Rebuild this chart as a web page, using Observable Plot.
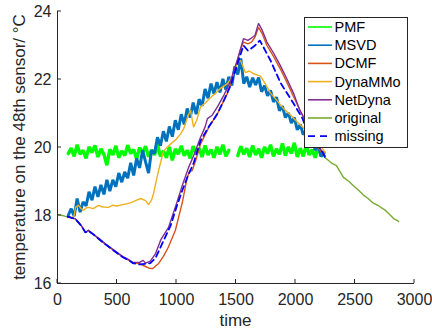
<!DOCTYPE html>
<html><head><meta charset="utf-8">
<script src="https://cdn.jsdelivr.net/npm/d3@7"></script>
<script src="https://cdn.jsdelivr.net/npm/@observablehq/plot@0.6"></script>
<style>body{margin:0;background:#fff} svg{display:block}</style>
</head><body><div id="chart"></div>
<script>
const seriesNames = ["PMF","MSVD","DCMF","DynaMMo","NetDyna","original","missing"];
const seriesColors = ["#00FF00","#0072BD","#D95319","#EDB120","#7E2F8E","#77AC30","#0000FF"];
const xTicks = [0,500,1000,1500,2000,2500,3000];
const yTicks = [16,18,20,22,24];
const xLabel = "time";
const yLabel = "temperature on the 48th sensor/ °C";

const noiseT = [90,115,140,165,190,215,240,265,290,315,340,365,390,415,440,465,490,515,540,565,590,615,640,665,690,715,740,765,790,815,840,865,890,915,940,965,990,1015,1040,1065,1090,1115,1140,1165,1190,1215,1240,1265,1290,1315,1340,1365,1390,1415,1440,1465,1490,1515,1540,1565,1590,1615,1640,1665,1690,1715,1740,1765,1790,1815,1840,1865,1890,1915,1940,1965,1990,2015,2040,2065,2090,2115,2140,2165,2190,2215,2240];
const pmfV = [19.82,19.98,19.74,20.08,19.80,19.92,19.68,20.02,19.85,20.06,19.72,19.96,19.80,19.48,19.95,19.78,20.05,19.70,19.90,19.76,20.07,19.82,19.94,19.66,20.00,19.84,20.04,19.73,19.93,19.78,20.09,19.74,19.90,19.70,20.02,19.62,19.96,19.80,20.05,19.76,19.92,19.68,20.04,19.82,19.98,19.72,20.06,19.78,19.94,19.70,20.02,19.80,20.08,19.74,19.92,null,null,19.76,20.04,19.80,19.98,19.72,20.06,19.78,19.96,19.70,20.02,19.82,20.08,19.74,19.96,19.80,20.12,19.76,20.02,19.82,20.14,19.72,19.98,19.74,20.06,19.78,19.94,19.70,20.02,19.74,19.85];
const msvdV = [18.00,18.20,17.98,18.50,18.10,18.40,18.28,18.70,18.45,18.85,18.55,18.90,18.62,19.05,18.72,19.05,18.85,19.25,18.98,19.28,19.10,19.55,19.18,19.68,19.40,19.92,19.58,19.25,19.92,19.82,20.30,20.05,20.48,20.18,20.62,20.32,20.80,20.52,20.98,20.68,21.15,20.88,21.32,20.98,21.42,21.22,21.72,21.45,21.88,21.58,21.92,21.62,22.02,21.70,22.08,21.82,22.38,22.15,22.62,21.88,22.08,21.78,22.05,21.84,22.06,21.64,21.82,21.52,21.68,21.34,21.48,21.08,21.22,20.88,21.02,20.72,20.88,20.52,20.68,20.38,20.52,20.18,20.32,19.92,20.08,19.74,19.85];

const dcmfT = [85,150,200,235,260,300,350,403,480,546,600,632,690,740,770,800,850,890,930,990,1050,1090,1110,1132,1160,1202,1272,1345,1429,1496,1540,1563,1600,1630,1660,1689,1720,1760,1820,1874,1930,1983,2059,2126,2200,2250];
const dcmfV = [17.97,17.9,17.7,17.5,17.55,17.45,17.3,17.15,16.95,16.78,16.68,16.62,16.58,16.5,16.45,16.44,16.59,16.8,17.06,17.56,18.4,19.12,19.3,19.32,19.6,20.1,20.6,21.0,21.6,22.35,22.9,23.1,23.05,23.1,23.25,23.53,23.35,23.0,22.65,22.3,21.9,21.5,20.95,20.45,19.95,19.7];

const dynT = [84,126,140,151,176,200,218,240,260,300,345,380,429,460,500,546,580,620,655,700,740,765,790,807,849,891,950,1000,1034,1060,1092,1118,1143,1170,1202,1240,1286,1330,1370,1429,1470,1513,1538,1580,1610,1647,1706,1750,1790,1840,1899,1960,2017,2060,2101,2140,2185,2227,2250];
const dynV = [17.94,17.94,18.0,18.24,18.3,18.2,18.15,18.22,18.24,18.2,18.3,18.25,18.24,18.3,18.28,18.32,18.34,18.38,18.44,18.5,18.44,18.32,18.45,18.65,19.32,19.9,20.1,20.25,20.4,20.55,20.88,21.1,20.6,20.8,21.2,21.3,21.47,21.6,21.74,21.88,22.1,22.5,22.56,22.2,22.25,22.17,22.1,21.85,21.6,21.4,21.15,20.95,20.74,20.6,20.44,20.3,20.15,19.97,19.85];

const netT = [85,150,200,235,260,300,350,403,480,546,600,632,690,720,740,780,824,870,933,1000,1050,1100,1143,1202,1240,1260,1300,1345,1400,1454,1513,1563,1600,1622,1660,1689,1720,1760,1820,1874,1930,1983,2035,2059,2126,2200,2250];
const netV = [17.97,17.9,17.7,17.5,17.57,17.45,17.32,17.17,16.97,16.8,16.7,16.62,16.62,16.68,16.6,16.66,16.88,17.3,17.65,18.35,18.9,19.4,19.75,20.3,20.6,20.85,20.95,21.2,21.55,21.95,22.6,23.2,23.15,23.2,23.3,23.65,23.45,23.1,22.75,22.4,22.0,21.6,21.1,20.95,20.5,20.0,19.75];

const origT = [0,20,40,60,84,1000,2250,2300,2344,2403,2450,2480,2530,2571,2610,2647,2700,2756,2800,2824,2857,2866];
const origV = [18.03,18.02,18.0,17.98,17.95,null,19.7,19.55,19.47,19.12,19.0,18.9,18.74,18.6,18.5,18.38,18.28,18.15,18.0,17.91,17.85,17.82];

const missT = [85,150,200,235,260,300,350,403,480,546,600,632,690,740,780,824,870,950,1000,1050,1100,1143,1202,1270,1345,1400,1454,1513,1563,1600,1622,1660,1700,1731,1790,1874,1983,2059,2126,2210,2250];
const missV = [17.97,17.9,17.7,17.5,17.55,17.45,17.3,17.15,16.95,16.78,16.68,16.6,16.56,16.58,16.6,16.75,17.1,17.7,18.25,18.75,19.2,19.53,20.2,20.6,21.0,21.4,21.82,22.47,23.0,22.85,22.9,23.0,23.15,22.95,22.56,21.9,21.3,20.85,20.26,19.97,19.7];

const rows = (T, V) => T.map((t, i) => ({t, v: V[i] == null ? NaN : V[i]}));
const seriesData = [rows(noiseT,pmfV), rows(noiseT,msvdV), rows(dcmfT,dcmfV), rows(dynT,dynV), rows(netT,netV), rows(origT,origV), rows(missT,missV)];

const font = "'Liberation Sans', Arial, Helvetica, sans-serif";
const ink = "#262626";
const widths = [3.4, 3.0, 1.4, 1.4, 1.4, 1.4, 1.8];

const lineMarks = seriesData.map((d, i) => Plot.line(d, {
  x: "t", y: "v", stroke: seriesColors[i],
  strokeWidth: widths[i],
  strokeLinejoin: "miter",
  strokeDasharray: i === 6 ? "6,4" : null,
  defined: p => !isNaN(p.v)
}));

const chart = Plot.plot({
  width: 432, height: 330,
  marginLeft: 57, marginRight: 18, marginTop: 11, marginBottom: 47,
  x: {domain: [0, 3000]},
  y: {domain: [16, 24]},
  style: {fontFamily: font, fontSize: "16px", color: ink, background: "#fff"},
  marks: [
    ...lineMarks,
    Plot.ruleX([0], {stroke: ink, strokeWidth: 1}),
    Plot.ruleY([16], {stroke: ink, strokeWidth: 1}),
    Plot.axisX({ticks: xTicks, tickFormat: d3.format("d"), tickSize: 0, tickPadding: 10, label: null, fontSize: 16, fill: ink}),
    Plot.axisY({ticks: yTicks, tickFormat: d3.format("d"), tickSize: 0, tickPadding: 6, label: null, fontSize: 16, fill: ink})
  ]
});
document.getElementById("chart").appendChild(chart);

const sx = chart.scale("x"), sy = chart.scale("y");
const svg = d3.select(chart);
const x0 = sx.apply(0), y0 = sy.apply(16);
// inward ticks
const tg = svg.append("g").attr("stroke", ink).attr("stroke-width", 1);
xTicks.forEach(t => tg.append("line").attr("x1", sx.apply(t)).attr("x2", sx.apply(t)).attr("y1", y0).attr("y2", y0 - 4));
yTicks.forEach(t => tg.append("line").attr("x1", x0).attr("x2", x0 + 4).attr("y1", sy.apply(t)).attr("y2", sy.apply(t)));

// axis titles
svg.append("text").attr("x", (sx.apply(0) + sx.apply(3000)) / 2).attr("y", 326)
  .attr("text-anchor", "middle").attr("font-family", font).attr("font-size", 17).attr("fill", ink).text(xLabel);
const ycx = 25, ycy = (sy.apply(16) + sy.apply(24)) / 2;
svg.append("text").attr("transform", `translate(${ycx},${ycy}) rotate(-90)`)
  .attr("text-anchor", "middle").attr("font-family", font).attr("font-size", 17).attr("fill", ink).text(yLabel);

// legend
const lg = svg.append("g").attr("text-anchor", "start");
lg.append("rect").attr("x", 304.5).attr("y", 17.5).attr("width", 103).attr("height", 130)
  .attr("fill", "#fff").attr("stroke", ink).attr("stroke-width", 1);
seriesNames.forEach((name, i) => {
  const y = 27 + i * 18.2;
  lg.append("line").attr("x1", 308).attr("x2", 332).attr("y1", y).attr("y2", y)
    .attr("stroke", seriesColors[i]).attr("stroke-width", i === 6 ? 1.8 : 1.6)
    .attr("stroke-dasharray", i === 6 ? "7,5" : null);
  lg.append("text").attr("x", 334.5).attr("y", y).attr("dy", "0.35em").attr("text-anchor", "start")
    .attr("font-family", font).attr("font-size", 14.5).attr("fill", "#000").text(name);
});
</script>
</body></html>
